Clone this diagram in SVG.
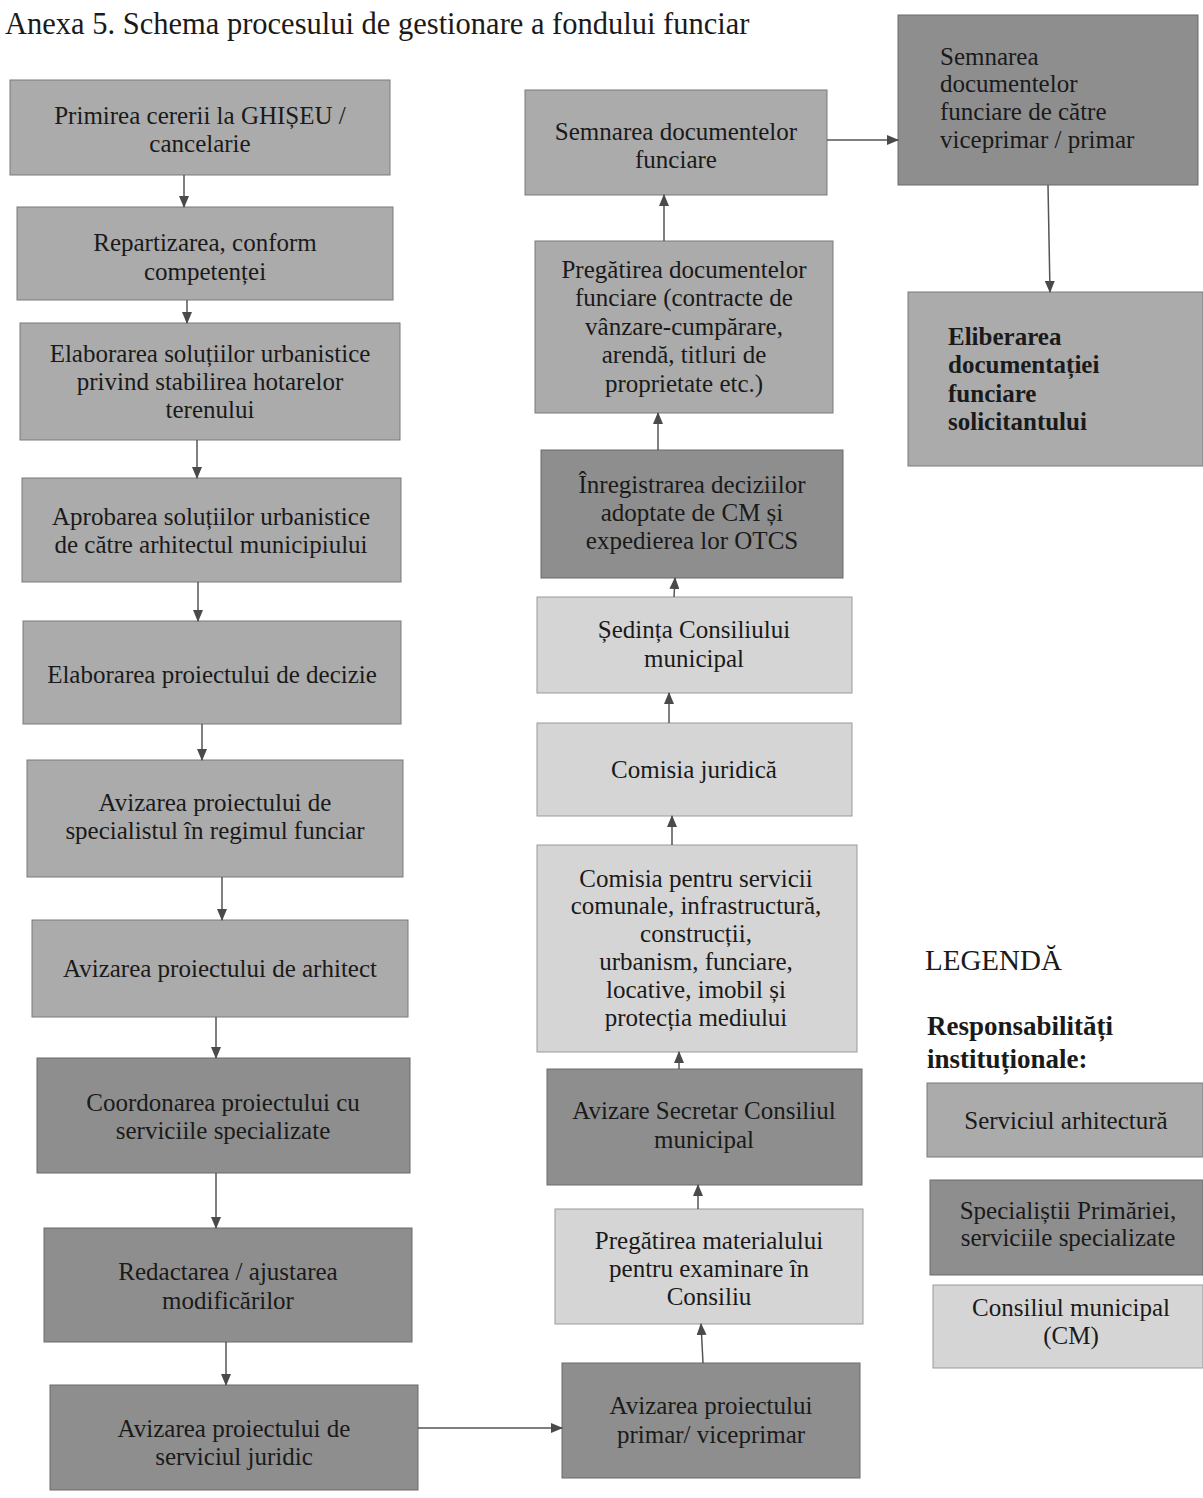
<svg xmlns="http://www.w3.org/2000/svg" width="1203" height="1498" viewBox="0 0 1203 1498">
<defs>
<style>
.bg{fill:#ffffff}
.med{fill:#ababab;stroke:#7a7a7a;stroke-width:1}
.dark{fill:#8e8e8e;stroke:#6a6a6a;stroke-width:1}
.light{fill:#d5d5d5;stroke:#9a9a9a;stroke-width:1}
text, tspan{font-family:"Liberation Serif","Times New Roman",serif;fill:#1a1a1a}
.t{font-family:"Liberation Serif","Times New Roman",serif;font-size:25px;text-anchor:middle}
.tl{font-family:"Liberation Serif","Times New Roman",serif;font-size:25px;text-anchor:start}
.tb{font-family:"Liberation Serif","Times New Roman",serif;font-size:25px;font-weight:bold;text-anchor:start}
.title{font-family:"Liberation Serif","Times New Roman",serif;font-size:30.5px}
.leg{font-family:"Liberation Serif","Times New Roman",serif;font-size:29px}
.legb{font-family:"Liberation Serif","Times New Roman",serif;font-size:27px;font-weight:bold}
.c{stroke:#555;stroke-width:1.5;fill:none;marker-end:url(#ah)}
</style>
<marker id="ah" viewBox="0 0 12 10" refX="11" refY="5" markerWidth="12" markerHeight="10" markerUnits="userSpaceOnUse" orient="auto">
<path d="M0,0 L12,5 L0,10 Z" fill="#4a4a4a"/>
</marker>
</defs>
<rect class="bg" x="0" y="0" width="1203" height="1498"/>
<text class="title" x="5" y="34">Anexa 5. Schema procesului de gestionare a fondului funciar</text>

<g id="n1"><rect class="med" x="10" y="80" width="380" height="95"/><text class="t"><tspan x="200" y="124">Primirea cererii la GHIȘEU /</tspan><tspan x="200" y="152">cancelarie</tspan></text></g>
<g id="n2"><rect class="med" x="17" y="207" width="376" height="93"/><text class="t"><tspan x="205" y="251">Repartizarea, conform</tspan><tspan x="205" y="280">competenței</tspan></text></g>
<g id="n3"><rect class="med" x="20" y="323" width="380" height="117"/><text class="t"><tspan x="210" y="362">Elaborarea soluțiilor urbanistice</tspan><tspan x="210" y="390">privind stabilirea hotarelor</tspan><tspan x="210" y="418">terenului</tspan></text></g>
<g id="n4"><rect class="med" x="22" y="478" width="379" height="104"/><text class="t"><tspan x="211" y="525">Aprobarea soluțiilor urbanistice</tspan><tspan x="211" y="553">de către arhitectul municipiului</tspan></text></g>
<g id="n5"><rect class="med" x="23" y="621" width="378" height="103"/><text class="t"><tspan x="212" y="683">Elaborarea proiectului de decizie</tspan></text></g>
<g id="n6"><rect class="med" x="27" y="760" width="376" height="117"/><text class="t"><tspan x="215" y="811">Avizarea proiectului de</tspan><tspan x="215" y="839">specialistul în regimul funciar</tspan></text></g>
<g id="n7"><rect class="med" x="32" y="920" width="376" height="97"/><text class="t"><tspan x="220" y="977">Avizarea proiectului de arhitect</tspan></text></g>
<g id="n8"><rect class="dark" x="37" y="1058" width="373" height="115"/><text class="t"><tspan x="223" y="1111">Coordonarea proiectului cu</tspan><tspan x="223" y="1139">serviciile specializate</tspan></text></g>
<g id="n9"><rect class="dark" x="44" y="1228" width="368" height="114"/><text class="t"><tspan x="228" y="1280">Redactarea / ajustarea</tspan><tspan x="228" y="1309">modificărilor</tspan></text></g>
<g id="n10"><rect class="dark" x="50" y="1385" width="368" height="105"/><text class="t"><tspan x="234" y="1437">Avizarea proiectului de</tspan><tspan x="234" y="1465">serviciul juridic</tspan></text></g>

<g id="m1"><rect class="med" x="525" y="90" width="302" height="105"/><text class="t"><tspan x="676" y="140">Semnarea documentelor</tspan><tspan x="676" y="168">funciare</tspan></text></g>
<g id="m2"><rect class="med" x="535" y="241" width="298" height="172"/><text class="t"><tspan x="684" y="278">Pregătirea documentelor</tspan><tspan x="684" y="306">funciare (contracte de</tspan><tspan x="684" y="335">vânzare-cumpărare,</tspan><tspan x="684" y="363">arendă, titluri de</tspan><tspan x="684" y="392">proprietate etc.)</tspan></text></g>
<g id="m3"><rect class="dark" x="541" y="450" width="302" height="128"/><text class="t"><tspan x="692" y="493">Înregistrarea deciziilor</tspan><tspan x="692" y="521">adoptate de CM și</tspan><tspan x="692" y="549">expedierea lor OTCS</tspan></text></g>
<g id="m4"><rect class="light" x="537" y="597" width="315" height="96"/><text class="t"><tspan x="694" y="638">Ședința Consiliului</tspan><tspan x="694" y="667">municipal</tspan></text></g>
<g id="m5"><rect class="light" x="537" y="723" width="315" height="93"/><text class="t"><tspan x="694" y="778">Comisia juridică</tspan></text></g>
<g id="m6"><rect class="light" x="537" y="845" width="320" height="207"/><text class="t"><tspan x="696" y="887">Comisia pentru servicii</tspan><tspan x="696" y="914">comunale, infrastructură,</tspan><tspan x="696" y="942">construcții,</tspan><tspan x="696" y="970">urbanism, funciare,</tspan><tspan x="696" y="998">locative, imobil și</tspan><tspan x="696" y="1026">protecția mediului</tspan></text></g>
<g id="m7"><rect class="dark" x="547" y="1069" width="315" height="116"/><text class="t"><tspan x="704" y="1119">Avizare Secretar Consiliul</tspan><tspan x="704" y="1148">municipal</tspan></text></g>
<g id="m8"><rect class="light" x="555" y="1209" width="308" height="115"/><text class="t"><tspan x="709" y="1249">Pregătirea materialului</tspan><tspan x="709" y="1277">pentru examinare în</tspan><tspan x="709" y="1305">Consiliu</tspan></text></g>
<g id="m9"><rect class="dark" x="562" y="1363" width="298" height="115"/><text class="t"><tspan x="711" y="1414">Avizarea proiectului</tspan><tspan x="711" y="1443">primar/ viceprimar</tspan></text></g>

<g id="r1"><rect class="dark" x="898" y="15" width="300" height="170"/><text class="tl"><tspan x="940" y="65">Semnarea</tspan><tspan x="940" y="92">documentelor</tspan><tspan x="940" y="120">funciare de către</tspan><tspan x="940" y="148">viceprimar / primar</tspan></text></g>
<g id="r2"><rect class="med" x="908" y="292" width="295" height="174"/><text class="tb"><tspan x="948" y="345">Eliberarea</tspan><tspan x="948" y="373">documentației</tspan><tspan x="948" y="402">funciare</tspan><tspan x="948" y="430">solicitantului</tspan></text></g>

<g id="legend">
<text class="leg" x="925" y="970">LEGENDĂ</text>
<text class="legb"><tspan x="927" y="1035">Responsabilități</tspan><tspan x="927" y="1068">instituționale:</tspan></text>
<g id="leg1"><rect class="med" x="927" y="1083" width="276" height="74"/><text class="t"><tspan x="1066" y="1129">Serviciul arhitectură</tspan></text></g>
<g id="leg2"><rect class="dark" x="930" y="1180" width="273" height="95"/><text class="t"><tspan x="1068" y="1219">Specialiștii Primăriei,</tspan><tspan x="1068" y="1246">serviciile specializate</tspan></text></g>
<g id="leg3"><rect class="light" x="933" y="1285" width="270" height="83"/><text class="t"><tspan x="1071" y="1316">Consiliul municipal</tspan><tspan x="1071" y="1344">(CM)</tspan></text></g>
</g>

<g id="connectors">
<line class="c" x1="184" y1="175" x2="184" y2="207"/>
<line class="c" x1="187" y1="300" x2="187" y2="323"/>
<line class="c" x1="197" y1="440" x2="197" y2="478"/>
<line class="c" x1="198" y1="582" x2="198" y2="621"/>
<line class="c" x1="202" y1="724" x2="202" y2="760"/>
<line class="c" x1="222" y1="877" x2="222" y2="920"/>
<line class="c" x1="216" y1="1017" x2="216" y2="1058"/>
<line class="c" x1="216" y1="1173" x2="216" y2="1228"/>
<line class="c" x1="226" y1="1342" x2="226" y2="1385"/>
<line class="c" x1="418" y1="1428" x2="562" y2="1428"/>
<line class="c" x1="703" y1="1363" x2="701" y2="1324"/>
<line class="c" x1="698" y1="1209" x2="698" y2="1185"/>
<line class="c" x1="679" y1="1069" x2="679" y2="1052"/>
<line class="c" x1="672" y1="845" x2="672" y2="816"/>
<line class="c" x1="669" y1="723" x2="669" y2="693"/>
<line class="c" x1="674" y1="597" x2="675" y2="578"/>
<line class="c" x1="658" y1="450" x2="658" y2="413"/>
<line class="c" x1="664" y1="241" x2="664" y2="195"/>
<line class="c" x1="827" y1="140" x2="898" y2="140"/>
<line class="c" x1="1048" y1="185" x2="1050" y2="292"/>
</g>
</svg>
